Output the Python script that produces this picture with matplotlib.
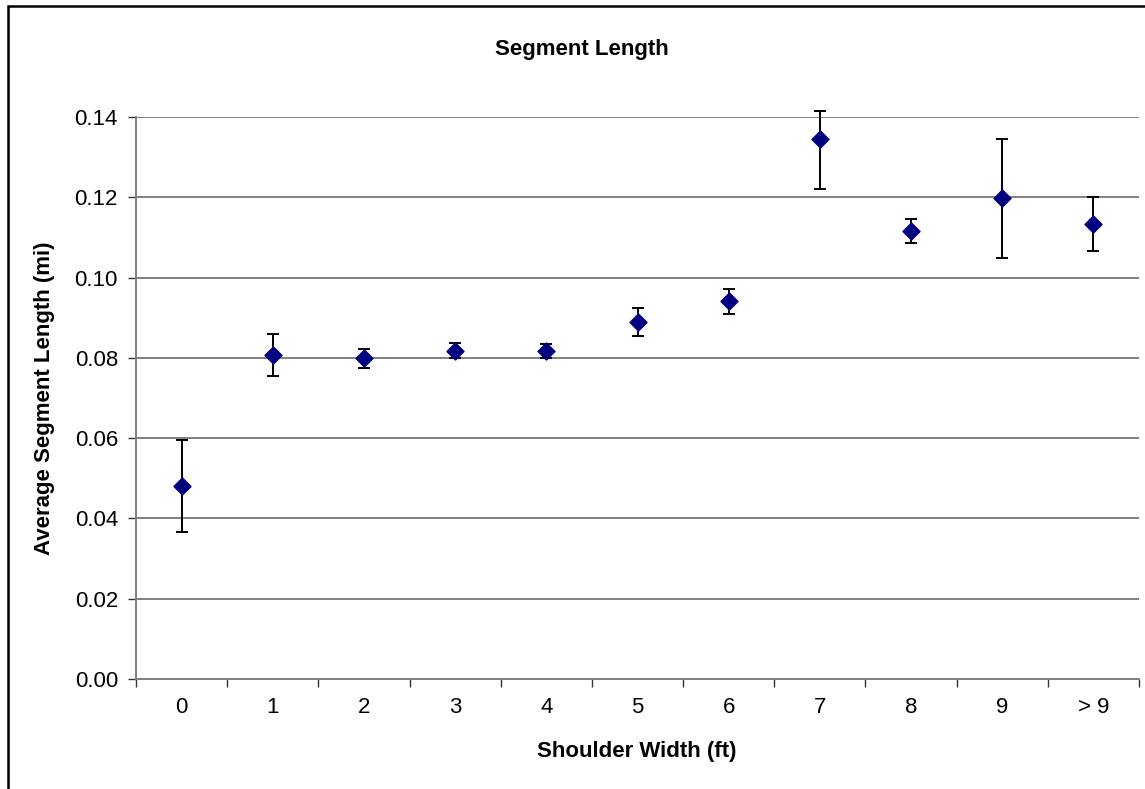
import matplotlib
matplotlib.use("Agg")
import matplotlib.pyplot as plt
from matplotlib.patches import Rectangle
import numpy as np

plt.rcParams['font.family'] = ['Liberation Sans', 'DejaVu Sans']

# data
categories = ['0', '1', '2', '3', '4', '5', '6', '7', '8', '9', '> 9']
avg_length = [0.0481, 0.0807, 0.0800, 0.0817, 0.0817, 0.0889, 0.0942, 0.1345, 0.1116, 0.1198, 0.1134]
upper = [0.0595, 0.0860, 0.0822, 0.0837, 0.0835, 0.0924, 0.0972, 0.1415, 0.1146, 0.1345, 0.1201]
lower = [0.0366, 0.0755, 0.0775, 0.0800, 0.0800, 0.0855, 0.0909, 0.1221, 0.1086, 0.1049, 0.1066]

y = np.array(avg_length)
yerr = [y - np.array(lower), np.array(upper) - y]
x = np.arange(len(categories))

W, H = 1145, 789
fig = plt.figure(figsize=(W / 100, H / 100), dpi=100)
ax = fig.add_axes([136 / W, 1 - 679 / H, (1139 - 136) / W, (679 - 117) / H])

ax.errorbar(x, y, yerr=yerr, fmt='none', ecolor='black', elinewidth=1.4,
            capsize=4, capthick=1.4, clip_on=False, zorder=3)
ax.scatter(x, y, marker='D', s=75, color='#000080', zorder=4, clip_on=False)

ax.set_xlim(-0.5, len(categories) - 0.5)
ax.set_ylim(0, 0.14)
ax.set_yticks(np.arange(0, 0.141, 0.02))
ax.set_yticklabels([f'{v:.2f}' for v in np.arange(0, 0.141, 0.02)])
ax.set_xticks(x)
ax.set_xticklabels(categories)
ax.set_xticks(np.arange(-0.5, len(categories), 1.0), minor=True)
ax.tick_params(axis='x', which='major', length=0, pad=13, labelsize=16)
ax.tick_params(axis='x', which='minor', length=6, width=1, color='#333333')
ax.tick_params(axis='y', length=6, width=1, color='#333333', pad=7, labelsize=16)

ax.grid(axis='y', color='#808080', linewidth=1.4)
ax.set_axisbelow(True)
for s in ['top', 'right']:
    ax.spines[s].set_visible(False)
for s in ['left', 'bottom']:
    ax.spines[s].set_color('#808080')
    ax.spines[s].set_linewidth(1.4)

fig.text(582 / W, 1 - 50 / H, 'Segment Length', ha='center', va='center',
         fontsize=16, fontweight='bold')
fig.text(637 / W, 1 - 752 / H, 'Shoulder Width (ft)', ha='center', va='center',
         fontsize=16, fontweight='bold')
fig.text(45 / W, 1 - 398 / H, 'Average Segment Length (mi)', ha='center', va='center',
         rotation=90, fontsize=16, fontweight='bold')

# chart border (runs off the right and bottom edge)
fig.patches.append(Rectangle((8 / W, -0.1), 1.2, 1 - 6 / H + 0.1, transform=fig.transFigure,
                             fill=False, edgecolor='black', linewidth=1.8))

fig.savefig('out.png', dpi=100)
